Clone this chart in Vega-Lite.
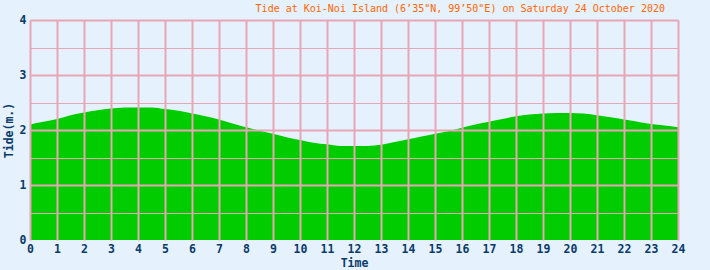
{
  "$schema": "https://vega.github.io/schema/vega-lite/v6.json",
  "autosize": "none",
  "width": 648,
  "height": 220,
  "padding": {"left": 30, "top": 20, "right": 32, "bottom": 30},
  "background": "#E5F1FC",
  "config": {
    "view": {"stroke": null, "fill": "#E5F1FC"},
    "font": "DejaVu Sans Mono"
  },
  "title": {
    "text": "Tide at Koi-Noi Island (6’35\"N, 99’50\"E) on Saturday 24 October 2020",
    "anchor": "end",
    "frame": "group",
    "font": "DejaVu Sans Mono",
    "fontSize": 10,
    "fontWeight": "normal",
    "color": "#FF6600",
    "offset": 0,
    "dx": -13
  },
  "data": {
    "values": [
      {"h": 0, "t": 2.10}, {"h": 0.5, "t": 2.15}, {"h": 1, "t": 2.20}, {"h": 1.5, "t": 2.27},
      {"h": 2, "t": 2.32}, {"h": 2.5, "t": 2.36}, {"h": 3, "t": 2.39}, {"h": 3.5, "t": 2.41},
      {"h": 4, "t": 2.41}, {"h": 4.5, "t": 2.41}, {"h": 5, "t": 2.38}, {"h": 5.5, "t": 2.35},
      {"h": 6, "t": 2.30}, {"h": 6.5, "t": 2.25}, {"h": 7, "t": 2.19}, {"h": 7.5, "t": 2.12},
      {"h": 8, "t": 2.05}, {"h": 8.5, "t": 1.99}, {"h": 9, "t": 1.93}, {"h": 9.5, "t": 1.87},
      {"h": 10, "t": 1.82}, {"h": 10.5, "t": 1.77}, {"h": 11, "t": 1.74}, {"h": 11.5, "t": 1.71},
      {"h": 12, "t": 1.71}, {"h": 12.5, "t": 1.71}, {"h": 13, "t": 1.73}, {"h": 13.5, "t": 1.78},
      {"h": 14, "t": 1.83}, {"h": 14.5, "t": 1.88}, {"h": 15, "t": 1.93}, {"h": 15.5, "t": 1.98},
      {"h": 16, "t": 2.04}, {"h": 16.5, "t": 2.10}, {"h": 17, "t": 2.15}, {"h": 17.5, "t": 2.20},
      {"h": 18, "t": 2.25}, {"h": 18.5, "t": 2.28}, {"h": 19, "t": 2.30}, {"h": 19.5, "t": 2.31},
      {"h": 20, "t": 2.31}, {"h": 20.5, "t": 2.30}, {"h": 21, "t": 2.27}, {"h": 21.5, "t": 2.23},
      {"h": 22, "t": 2.19}, {"h": 22.5, "t": 2.15}, {"h": 23, "t": 2.11}, {"h": 23.5, "t": 2.08},
      {"h": 24, "t": 2.05}
    ]
  },
  "mark": {"type": "area", "color": "#00CC00", "interpolate": "monotone"},
  "encoding": {
    "x": {
      "field": "h",
      "type": "quantitative",
      "scale": {"domain": [0, 24], "nice": false, "zero": false},
      "axis": {
        "values": [0,1,2,3,4,5,6,7,8,9,10,11,12,13,14,15,16,17,18,19,20,21,22,23,24],
        "title": "Time",
        "titleFont": "DejaVu Sans Mono",
        "titleFontSize": 11.5,
        "titleFontWeight": "bold",
        "titleColor": "#0A3A6A",
        "titlePadding": 3,
        "labelFont": "DejaVu Sans Mono",
        "labelFontSize": 11.5,
        "labelFontWeight": "bold",
        "labelColor": "#0A3A6A",
        "labelPadding": 3,
        "labelFlush": false,
        "labelOverlap": false,
        "ticks": false,
        "domain": false,
        "grid": true,
        "gridColor": "#E8A5B5",
        "gridWidth": 2,
        "gridOpacity": 1,
        "zindex": 1
      }
    },
    "y": {
      "field": "t",
      "type": "quantitative",
      "scale": {"domain": [0, 4], "nice": false},
      "axis": {
        "values": [0, 0.5, 1, 1.5, 2, 2.5, 3, 3.5, 4],
        "labelExpr": "datum.value % 1 === 0 ? format(datum.value, 'd') : ''",
        "title": "Tide(m.)",
        "titleFont": "DejaVu Sans Mono",
        "titleFontSize": 11.5,
        "titleFontWeight": "bold",
        "titleColor": "#0A3A6A",
        "titlePadding": 5,
        "labelFont": "DejaVu Sans Mono",
        "labelFontSize": 11.5,
        "labelFontWeight": "bold",
        "labelColor": "#0A3A6A",
        "labelPadding": 4,
        "labelFlush": false,
        "labelOverlap": false,
        "ticks": false,
        "domain": false,
        "grid": true,
        "gridColor": "#E8A5B5",
        "gridWidth": {"condition": {"test": "datum.value % 1 === 0", "value": 2}, "value": 1},
        "gridOpacity": {"condition": {"test": "datum.value === 0", "value": 0}, "value": 1},
        "zindex": 1
      }
    }
  }
}
